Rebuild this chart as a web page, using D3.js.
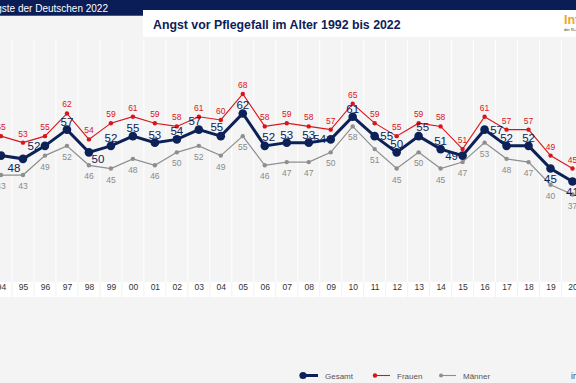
<!DOCTYPE html>
<html><head><meta charset="utf-8">
<script src="https://cdn.jsdelivr.net/npm/d3@7"></script>
<style>
html,body{margin:0;padding:0;background:#f4f4f4;}
svg{display:block;font-family:"Liberation Sans",Arial,sans-serif;}
</style></head>
<body>
<svg id="c" width="576" height="383"></svg>
<script>
const years = [1994,1995,1996,1997,1998,1999,2000,2001,2002,2003,2004,2005,2006,2007,2008,2009,2010,2011,2012,2013,2014,2015,2016,2017,2018,2019,2020];
const gesamt = [49,48,52,57,50,52,55,53,54,57,55,62,52,53,53,54,61,55,50,55,51,49,57,52,52,45,41];
const frauen = [55,53,55,62,54,59,61,59,58,61,60,68,58,59,58,57,65,59,55,59,58,51,61,57,57,49,45];
const maenner = [43,43,49,52,46,45,48,46,50,52,49,55,46,47,47,50,58,51,45,50,45,47,53,48,47,40,37];
const gesamtLabelPlace = ["l","bl","l","a","br","a","a","a","a","al","al","a","ar","a","a","l","a","r","a","ar","a","l","r","a","a","b","b"];
const headerText = "Die Ängste der Deutschen 2022";
const titleText = "Angst vor Pflegefall im Alter 1992 bis 2022";
const legendNames = ["Gesamt","Frauen","Männer"];

const navy = "#0c2157", red = "#d9141b", gray = "#8e8e8e";
const svg = d3.select("#c");

const x = d3.scaleLinear().domain([1994, 2020]).range([1, 572.5]);
const y = d3.scaleLinear().domain([37, 68]).range([194.5, 94]);

svg.append("rect").attr("width",576).attr("height",383).attr("fill","#f4f4f4");

const mids = d3.range(1993.5, 2021, 1);
svg.append("g").selectAll("line").data(mids).join("line")
  .attr("x1", d=>x(d)).attr("x2", d=>x(d)).attr("y1", 40).attr("y2", 283)
  .attr("stroke", "#ffffff").attr("stroke-width", 1);

svg.append("rect").attr("x",0).attr("y",282).attr("width",576).attr("height",15).attr("fill","#ffffff");
svg.append("g").selectAll("line").data(mids).join("line")
  .attr("x1", d=>x(d)).attr("x2", d=>x(d)).attr("y1", 282).attr("y2", 297)
  .attr("stroke", "#f1f1f1").attr("stroke-width", 1);

const axis = d3.axisBottom(x).tickValues(years).tickSize(0)
  .tickFormat(d => String(d).slice(2));
const ax = svg.append("g").attr("transform","translate(0,282)").call(axis);
ax.select(".domain").remove();
ax.selectAll("text").attr("dy", "0.2em").attr("y", 6).attr("fill","#333").attr("font-size", 8.5)
  .attr("font-family","Liberation Sans, Arial, sans-serif");

// header
svg.append("rect").attr("x",0).attr("y",0).attr("width",576).attr("height",15).attr("fill","#0a1d57");
svg.append("rect").attr("x",0).attr("y",15).attr("width",143).attr("height",1).attr("fill","#3a5a99");
svg.append("text").attr("x",108).attr("y",11.5).attr("text-anchor","end")
  .attr("fill","#fff").attr("font-size",10).text(headerText);
svg.append("rect").attr("x",143).attr("y",10).attr("width",433).attr("height",27).attr("fill","#ffffff");
const t = svg.append("text").attr("x",153).attr("y",29).attr("fill",navy)
  .attr("font-weight","bold").attr("font-size",13.5).text(titleText);
const tw = t.node().getComputedTextLength();
if (tw > 0) t.attr("font-size", 13.5 * 248 / tw);
svg.append("text").attr("x",564).attr("y",24).attr("fill","#f2a51a")
  .attr("font-weight","bold").attr("font-size",12.5).text("Info");
svg.append("text").attr("x",564).attr("y",30.5).attr("fill","#333")
  .attr("font-size",4).text("der R+V");

const line = arr => d3.line().x((d,i)=>x(years[i])).y(d=>y(d))(arr);
svg.append("path").attr("d", line(maenner)).attr("fill","none").attr("stroke",gray).attr("stroke-width",1.2);
svg.append("path").attr("d", line(frauen)).attr("fill","none").attr("stroke",red).attr("stroke-width",1.1);
svg.append("path").attr("d", line(gesamt)).attr("fill","none").attr("stroke",navy).attr("stroke-width",3);

svg.append("g").selectAll("circle").data(maenner).join("circle")
  .attr("cx",(d,i)=>x(years[i])).attr("cy",d=>y(d)).attr("r",2.2).attr("fill",gray);
svg.append("g").selectAll("circle").data(frauen).join("circle")
  .attr("cx",(d,i)=>x(years[i])).attr("cy",d=>y(d)).attr("r",2.2).attr("fill",red);
svg.append("g").selectAll("circle").data(gesamt).join("circle")
  .attr("cx",(d,i)=>x(years[i])).attr("cy",d=>y(d)).attr("r",4.3).attr("fill",navy);

svg.append("g").selectAll("text").data(maenner).join("text")
  .attr("x",(d,i)=>x(years[i])).attr("y",d=>y(d)+14).attr("text-anchor","middle")
  .attr("fill","#8a8a8a").attr("font-size",8.5).text(d=>d);
svg.append("g").selectAll("text").data(frauen).join("text")
  .attr("x",(d,i)=>x(years[i])).attr("y",d=>y(d)-6).attr("text-anchor","middle")
  .attr("fill",red).attr("font-size",8.5).text(d=>d);
const off = {a:[0,-4],b:[0,14],l:[-11,4],r:[12,4],al:[-4,-5],ar:[4,-5],bl:[-9,13],br:[9,11]};
svg.append("g").selectAll("text").data(gesamt).join("text")
  .attr("x",(d,i)=>x(years[i])+off[gesamtLabelPlace[i]][0])
  .attr("y",(d,i)=>y(d)+off[gesamtLabelPlace[i]][1])
  .attr("text-anchor","middle").attr("fill",navy).attr("font-size",11.5).text(d=>d);

const lg = svg.append("g");
const lx = [303, 375, 441];
const lc = [navy, red, gray];
const lw = [3, 1.1, 1.1];
const lr = [3.6, 2.2, 2];
legendNames.forEach((n,i)=>{
  lg.append("line").attr("x1",lx[i]).attr("x2",lx[i]+15).attr("y1",375.5).attr("y2",375.5)
    .attr("stroke",lc[i]).attr("stroke-width",lw[i]);
  lg.append("circle").attr("cx",lx[i]).attr("cy",375.5).attr("r",lr[i]).attr("fill",lc[i]);
  lg.append("text").attr("x",lx[i]+22).attr("y",378.5).attr("fill","#555").attr("font-size",8).text(n);
});
svg.append("text").attr("x",571).attr("y",378.5).attr("fill","#444").attr("font-size",8.5).text("in");
</script>
</body></html>
